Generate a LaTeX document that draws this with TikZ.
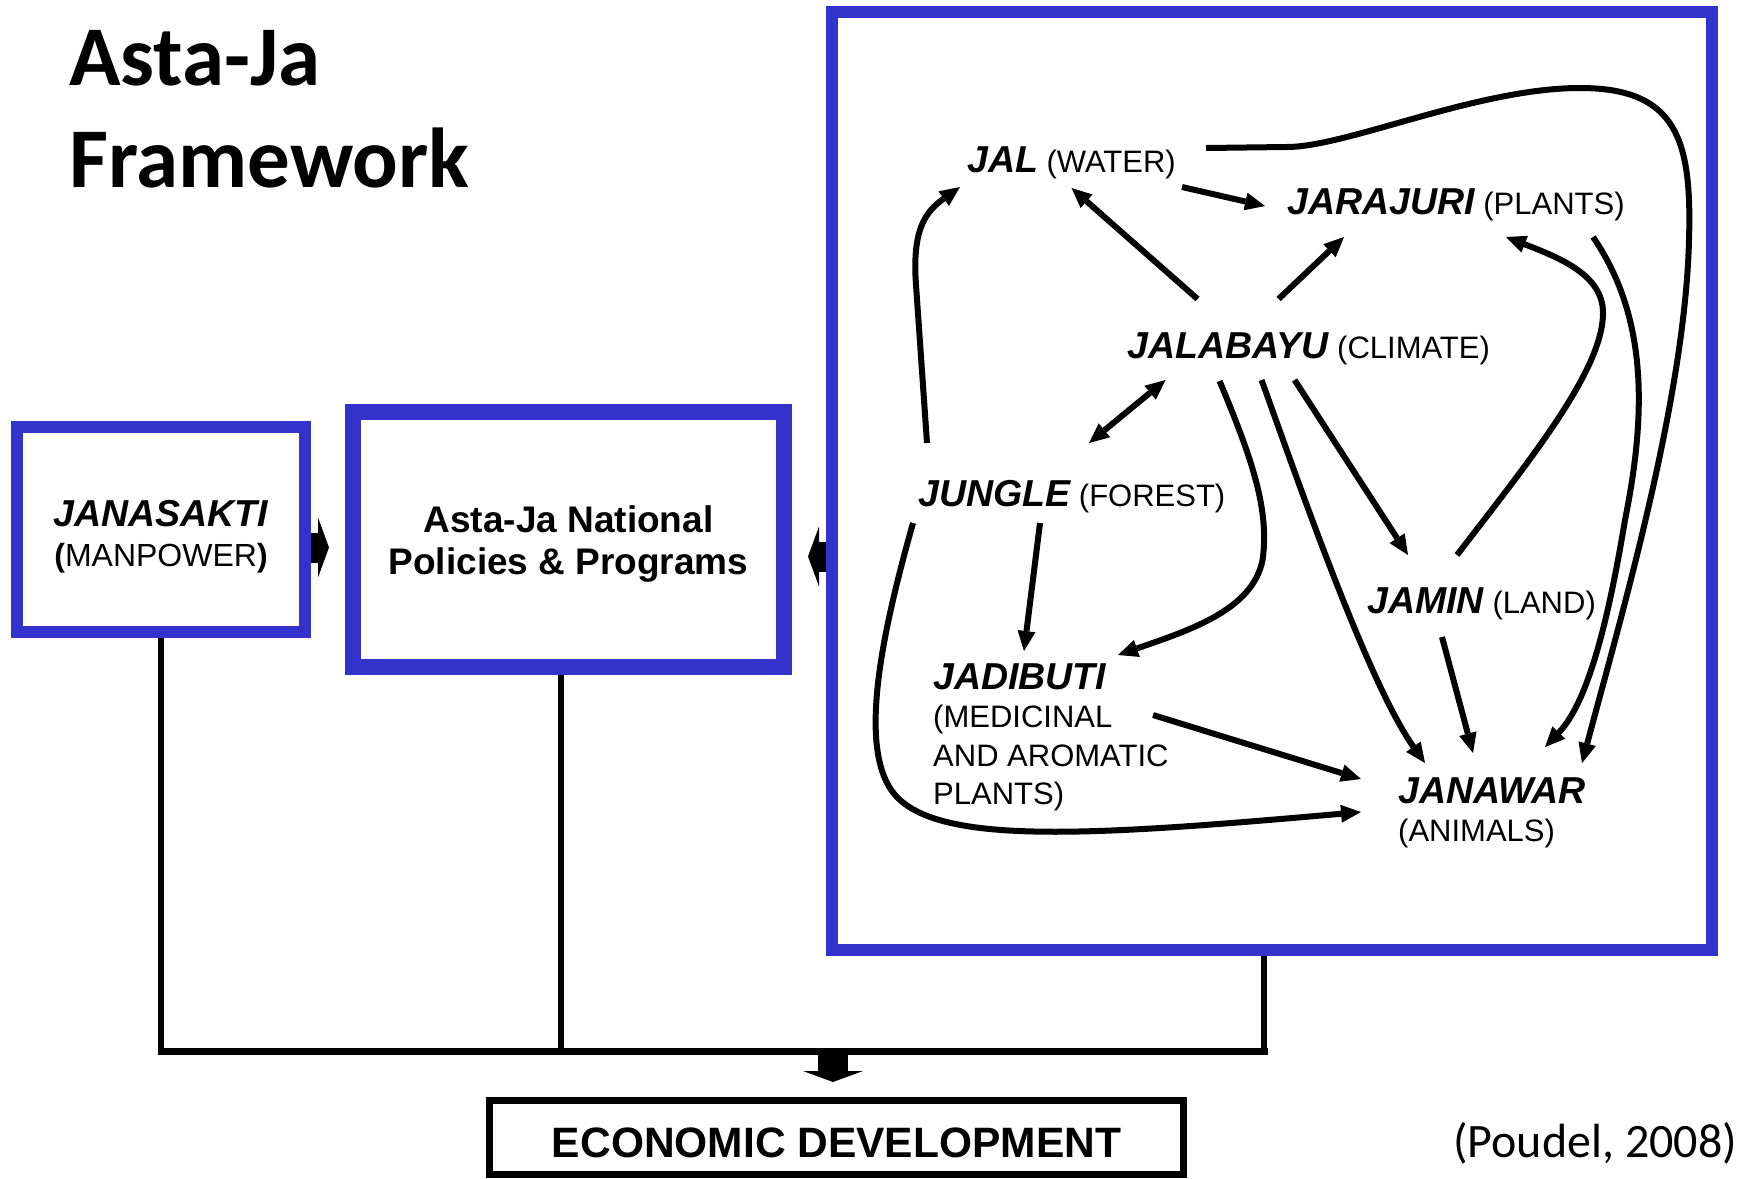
\documentclass[tikz,border=0pt]{standalone}
\usepackage{fontspec}
\setmainfont{Liberation Sans}
\newfontfamily\calibri{Carlito}
\usetikzlibrary{arrows.meta}
\definecolor{frameblue}{RGB}{51,51,204}
\newcommand{\jname}[1]{{\fontsize{37.5}{38.5}\selectfont\bfseries\itshape #1}}
\tikzset{
  bluebox/.style={draw=frameblue, fill=white},
  tag/.style={inner sep=0pt, anchor=base west, font=\fontsize{31}{38.5}\selectfont},
  stack/.style={inner sep=0pt, anchor=north west, align=left, font=\fontsize{31}{38.5}\selectfont},
  link/.style={line width=6pt},
  wire/.style={line width=5.5pt},
  bus/.style={line width=7pt, line cap=rect},
  blk/.style={line width=30pt, -{Triangle[length=11pt,width=60pt,line width=0pt]}},
  >={Triangle[length=20pt,width=18pt,line width=0pt]}
}
\begin{document}
\begin{tikzpicture}[x=1pt, y=-1pt]
      \useasboundingbox (0,0) rectangle (1739,1178);
      \node[anchor=north west, inner sep=0pt, align=left, font=\calibri\bfseries\fontsize{85}{102}\selectfont] (title) at (69,30) {Asta-Ja\\Framework};
      \node[bluebox, line width=12pt, minimum width=288pt, minimum height=205pt, align=center, font=\fontsize{32}{40}\selectfont] (janasakti) at (161,529.5) {\rule{0pt}{41pt}\jname{JANASAKTI}\\\textbf{(}MANPOWER\textbf{)}};
      \node[bluebox, line width=16pt, minimum width=431pt, minimum height=255pt, align=center, font=\fontsize{37}{42}\selectfont\bfseries] (policy) at (568.5,539.5) {\rule{0pt}{36pt}Asta-Ja National\\Policies \& Programs};
      \node[bluebox, line width=12pt, minimum width=880pt, minimum height=938pt] (bigbox) at (1272,481) {};
      \node[draw, line width=7pt, minimum width=694pt, minimum height=74pt, text height=40pt, text depth=0pt, font=\fontsize{42.5}{45}\selectfont\bfseries] (econ) at (836.5,1137.5) {ECONOMIC DEVELOPMENT};
      \node[anchor=base west, inner sep=0pt, font=\calibri\fontsize{48}{55}\selectfont] (source) at (1453,1157) {(Poudel, 2008)};

      \node[tag] (jal) at (967,172) {\jname{JAL} (WATER)};
      \node[tag] (jarajuri) at (1287,214) {\jname{JARAJURI} (PLANTS)};
      \node[tag] (jalabayu) at (1127,358) {\jname{JALABAYU} (CLIMATE)};
      \node[tag] (jungle) at (918,506) {\jname{JUNGLE} (FOREST)};
      \node[tag] (jamin) at (1367,613) {\jname{JAMIN} (LAND)};
      \node[stack] (jadibuti) at (933,663) {\jname{JADIBUTI}\\(MEDICINAL\\AND AROMATIC\\PLANTS)};
      \node[stack] (janawar) at (1398,777) {\jname{JANAWAR}\\(ANIMALS)};

      \draw[link, ->] ([shift={(6,15)}]jal.base east) -- ([shift={(-22,-8)}]jarajuri.base west);
      \draw[link, ->] ([shift={(-111,-59)}]jalabayu.base) -- ([shift={(0,16)}]jal.base);
      \draw[link, ->] ([shift={(-30,-59)}]jalabayu.base) -- ([shift={(57,23)}]jarajuri.base west);
      \draw[link, <->] ([shift={(-143,22)}]jalabayu.base) -- ([shift={(171,-63)}]jungle.base west);
      \draw[link, ->] ([shift={(9,-63)}]jungle.base west) -- ++(-11,-158) .. controls +(-4,-55) and +(-35,25) .. ([shift={(-7,15)}]jal.base west);
      \draw[link, ->] ([shift={(122,17)}]jungle.base west) -- ([shift={(91,-12)}]jadibuti.north west);
      \draw[link, ->] ([shift={(-89,23)}]jalabayu.base) .. controls +(33,79) and +(7,-50) .. ++(43,179) .. controls +(-10,50) and +(72,-25) .. ([shift={(185,-8)}]jadibuti.north west);
      \draw[link, ->] ([shift={(-47,22)}]jalabayu.base) .. controls +(36,100) and +(-57,-80) .. ([shift={(27,-14)}]janawar.north west);
      \draw[link, ->] ([shift={(-14,22)}]jalabayu.base) -- ([shift={(41,-58)}]jamin.base west);
      \draw[link, ->] ([shift={(90,-58)}]jamin.base west) .. controls +(73,-95) and +(0,57) .. ++(146,-242) .. controls +(0,-38) and +(54,21) .. ([shift={(219,23)}]jarajuri.base west);
      \draw[link, ->] ([shift={(306,23)}]jarajuri.base west) .. controls +(57,83) and +(20,-100) .. ++(32,283) .. controls +(-15,90) and +(45,-47) .. ([shift={(147,-30)}]janawar.north west);
      \draw[link, ->] ([shift={(30,-24)}]jal.base east) -- ++(81,-1) .. controls +(60,0) and +(-103,0) .. ++(293,-59) .. controls +(97,0) and +(3,-100) .. ++(109,152) .. controls +(-4,160) and +(38,-143) .. ([shift={(184,-14)}]janawar.north west);
      \draw[link, ->] ([shift={(75,24)}]jamin.base west) -- ([shift={(75,-24)}]janawar.north west);
      \draw[link, ->] ([shift={(220,52)}]jadibuti.north west) -- ([shift={(-37,2)}]janawar.north west);
      \draw[link, ->] ([shift={(-5,17)}]jungle.base west) .. controls +(-33,117) and +(-45,-40) .. ++(-13,277) .. controls +(50,45) and +(-261,23) .. ([shift={(-37,35)}]janawar.north west);

      \coordinate (busL) at (161,1051);
      \coordinate (busM) at (561,1051);
      \coordinate (busR) at (1264,1051);
      \coordinate (tap) at (833,1051);
      \coordinate (inlet) at (policy.east -| bigbox.west);
      \draw[wire] (janasakti.south) -- (busL);
      \draw[wire] (policy.south -| busM) -- (busM);
      \draw[wire] (bigbox.south -| busR) -- (busR);
      \draw[bus] (busL) -- (busR);
      \draw[blk, shorten >=16pt] ([yshift=-18pt]janasakti.east) -- ([yshift=-8pt]policy.west);
      \draw[blk, shorten >=16pt] ([yshift=-17pt]inlet) -- ([yshift=-17pt]policy.east);
      \draw[blk, shorten >=15pt] (tap) -- (tap |- econ.north);
    \end{tikzpicture}
\end{document}
